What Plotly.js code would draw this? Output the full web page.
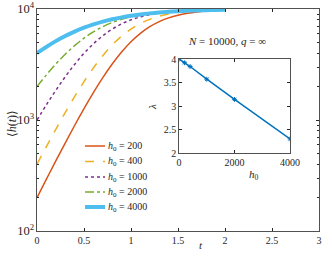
<!DOCTYPE html>
<html><head><meta charset="utf-8">
<script src="https://cdn.plot.ly/plotly-3.0.1.min.js"></script>
<style>html,body{margin:0;padding:0;background:#fff}#plot{width:332px;height:256px}</style>
</head><body><div id="plot"></div>
<script>
const t = [0,0.1,0.2,0.3,0.4,0.5,0.6,0.7,0.8,0.9,1.0,1.1,1.2,1.3,1.4,1.5,1.6,1.7,1.8,1.9,2.0];
const h200  = [200,293,428,620,892,1266,1765,2408,3196,4101,5071,6036,6927,7693,8315,8796,9153,9412,9595,9722,9811];
const h400  = [400,576,824,1165,1622,2213,2944,3799,4735,5691,6598,7401,8069,8598,9001,9297,9510,9661,9767,9840,9890];
const h1000 = [1000,1370,1849,2449,3166,3984,4862,5749,6590,7342,7978,8494,8896,9201,9427,9592,9711,9796,9856,9899,9929];
const h2000 = [2000,2550,3190,3908,4675,5459,6219,6925,7551,8084,8524,8877,9154,9368,9530,9652,9744,9811,9862,9898,9926];
const h4000 = [4000,4562,5136,5707,6259,6780,7260,7693,8076,8408,8693,8933,9133,9299,9435,9545,9635,9708,9767,9814,9851];
const seriesNames = ['<i>h</i><sub>0</sub> = 200','<i>h</i><sub>0</sub> = 400','<i>h</i><sub>0</sub> = 1000','<i>h</i><sub>0</sub> = 2000','<i>h</i><sub>0</sub> = 4000'];
const inH0 = [0,200,400,1000,2000,4000];
const inLambda = [4.0,3.92,3.84,3.57,3.14,2.30];
const xTicks = [0,0.5,1,1.5,2,2.5,3];
const xTickText = ['0','0.5','1','1.5','2','2.5','3'];

const F = 'Liberation Serif, DejaVu Serif, serif';
const ax = '#262626';
const W = 282, H = 222, L = 37, T = 9;
const px = v => (v - L) / W;
const py = v => (T + H - v) / H;
const styles = [
  {color:'#D95319', width:1.5, dash:'solid'},
  {color:'#EDB120', width:1.5, dash:'dash'},
  {color:'#7E2F8E', width:1.5, dash:'dot'},
  {color:'#77AC30', width:1.5, dash:'dashdot'},
  {color:'#4DBEEE', width:4, dash:'solid'}
];
const ys = [h200,h400,h1000,h2000,h4000];
const data = ys.map((y,i)=>({x:t, y:y, type:'scatter', mode:'lines', name:seriesNames[i], showlegend:false,
  line:Object.assign({shape:'spline'}, styles[i]), xaxis:'x', yaxis:'y'}));
data.push({x:inH0, y:inLambda, type:'scatter', mode:'lines+markers', showlegend:false,
  line:{color:'#0072BD', width:1.5}, marker:{color:'#0072BD', size:4, symbol:'asterisk-open', line:{color:'#0072BD', width:1}},
  xaxis:'x2', yaxis:'y2'});

// manual legend (compact spacing like the reference)
const legRows = [146, 161.5, 177, 192, 207];
const shapes = [];
const annotations = [];
seriesNames.forEach((nm,i)=>{
  shapes.push({type:'line', xref:'paper', yref:'paper', x0:px(85), x1:px(105), y0:py(legRows[i]), y1:py(legRows[i]),
    line:{color:styles[i].color, width:styles[i].width, dash:styles[i].dash}});
  annotations.push({text:nm, xref:'paper', yref:'paper', x:px(106), y:py(legRows[i]), xanchor:'left', yanchor:'middle',
    showarrow:false, font:{family:F, size:10, color:'#262626'}});
});
annotations.push(
  {text:'<i>N</i> = 10000, <i>q</i> = ∞', xref:'paper', yref:'paper', x:px(227), y:py(41),
    showarrow:false, font:{family:F, size:11, color:'#262626'}, xanchor:'center', yanchor:'middle'},
  {text:'⟨<i>h</i>(<i>t</i>)⟩', xref:'paper', yref:'paper', x:px(12), y:py(124), textangle:-90,
    showarrow:false, font:{family:F, size:12, color:'#262626'}, xanchor:'center', yanchor:'middle'},
  {text:'<i>t</i>', xref:'paper', yref:'paper', x:px(201), y:py(245),
    showarrow:false, font:{family:F, size:11, color:'#262626'}, xanchor:'center', yanchor:'middle'},
  {text:'<i>h</i><sub>0</sub>', xref:'paper', yref:'paper', x:px(254), y:py(175),
    showarrow:false, font:{family:F, size:11, color:'#262626'}, xanchor:'center', yanchor:'middle'},
  {text:'<i>λ</i>', xref:'paper', yref:'paper', x:px(152), y:py(107), textangle:-90,
    showarrow:false, font:{family:F, size:11, color:'#262626'}, xanchor:'center', yanchor:'middle'}
);

const layout = {
  width:332, height:256,
  margin:{l:37, r:13, t:9, b:25},
  paper_bgcolor:'#fff', plot_bgcolor:'#fff',
  font:{family:F, size:10, color:'#262626'},
  showlegend:false,
  xaxis:{range:[0,3], tickvals:xTicks, ticktext:xTickText, ticks:'inside', ticklen:3, tickcolor:ax,
    showline:true, linecolor:ax, linewidth:0.8, mirror:'ticks', showgrid:false, zeroline:false,
    tickfont:{family:F, size:10, color:'#262626'}},
  yaxis:{type:'log', range:[2,4], dtick:1, exponentformat:'power', ticks:'inside', ticklen:3, tickcolor:ax,
    showline:true, linecolor:ax, linewidth:0.8, mirror:'ticks', showgrid:false, zeroline:false,
    minor:{ticks:'inside', ticklen:2, tickcolor:ax, dtick:'D1', showgrid:false},
    tickfont:{family:F, size:10, color:'#262626'}},
  xaxis2:{domain:[px(179),px(290)], anchor:'y2', range:[0,4000], tickvals:[0,2000,4000], ticktext:['0','2000','4000'],
    ticks:'inside', ticklen:3, tickcolor:ax, showline:true, linecolor:ax, linewidth:0.8, mirror:'ticks',
    showgrid:false, zeroline:false, tickfont:{family:F, size:10, color:'#262626'}},
  yaxis2:{domain:[py(153),py(59)], anchor:'x2', range:[2,4], tickvals:[2,2.5,3,3.5,4], ticktext:['2','2.5','3','3.5','4'],
    ticks:'inside', ticklen:3, tickcolor:ax, showline:true, linecolor:ax, linewidth:0.8, mirror:'ticks',
    showgrid:false, zeroline:false, tickfont:{family:F, size:10, color:'#262626'}},
  shapes:shapes,
  annotations:annotations
};
Plotly.newPlot('plot', data, layout, {staticPlot:true, displayModeBar:false});
</script></body></html>
